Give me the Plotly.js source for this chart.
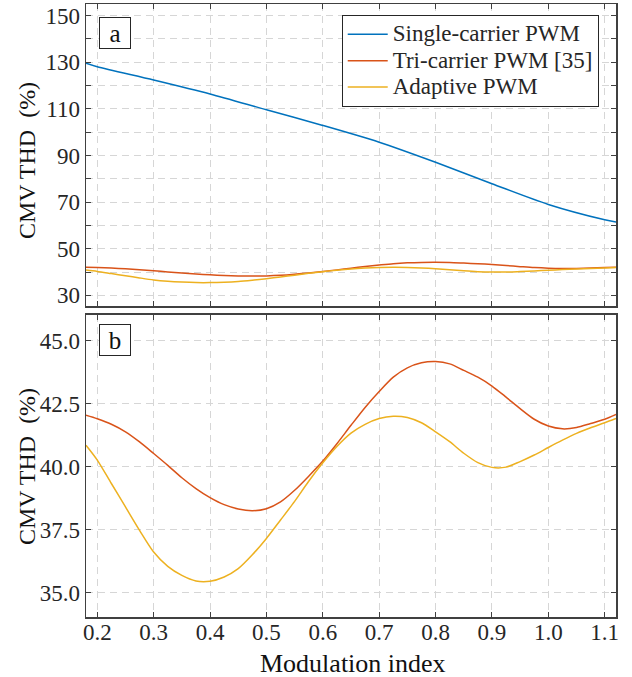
<!DOCTYPE html>
<html>
<head>
<meta charset="utf-8">
<script src="https://cdn.plot.ly/plotly-3.0.1.min.js"></script>
<style>html,body{margin:0;padding:0;background:#fff;}#chart{width:632px;height:677px;}</style>
</head>
<body>
<div id="chart"></div>
<script>
// Single-carrier PWM (top panel only)
const xSingle = [0.18, 0.2, 0.3, 0.4, 0.5, 0.6, 0.7, 0.8, 0.9, 1.0, 1.1, 1.12];
const ySingle = [129.6, 128.1, 122.4, 116.4, 109.6, 102.9, 95.7, 87.1, 77.9, 69.0, 62.4, 61.4];

// Modulation-index grid shared by Tri-carrier PWM [35] and Adaptive PWM
const xMod = [0.18, 0.2, 0.225, 0.25, 0.275, 0.3, 0.325, 0.35, 0.375, 0.4, 0.425, 0.45, 0.475, 0.5,
  0.525, 0.55, 0.575, 0.6, 0.625, 0.65, 0.675, 0.7, 0.725, 0.75, 0.775, 0.8, 0.825, 0.85, 0.875, 0.9,
  0.925, 0.95, 0.975, 1.0, 1.025, 1.05, 1.075, 1.1, 1.12];
const yTri = [42.04, 41.90, 41.68, 41.38, 40.98, 40.52, 40.05, 39.56, 39.13, 38.77, 38.49, 38.32, 38.25, 38.33,
  38.60, 39.06, 39.62, 40.22, 40.91, 41.64, 42.35, 42.98, 43.55, 43.92, 44.12, 44.17, 44.08, 43.82, 43.55, 43.20,
  42.76, 42.30, 41.88, 41.61, 41.50, 41.55, 41.71, 41.88, 42.07];
const yAdaptive = [40.85, 40.26, 39.33, 38.40, 37.47, 36.61, 36.04, 35.68, 35.46, 35.45, 35.62, 35.95, 36.50, 37.15,
  37.88, 38.62, 39.42, 40.15, 40.80, 41.33, 41.68, 41.91, 42.00, 41.95, 41.74, 41.38, 40.99, 40.53, 40.16, 39.97,
  39.98, 40.20, 40.46, 40.76, 41.05, 41.32, 41.54, 41.74, 41.91];

const seriesNames = ['Single-carrier PWM', 'Tri-carrier PWM [35]', 'Adaptive PWM'];
const seriesColors = ['#0072BD', '#D95319', '#EDB120'];

const xTicks = [0.2, 0.3, 0.4, 0.5, 0.6, 0.7, 0.8, 0.9, 1.0, 1.1];
const yTopTicks = [30, 40, 50, 60, 70, 80, 90, 100, 110, 120, 130, 140, 150];
const yTopTickText = ['30', '', '50', '', '70', '', '90', '', '110', '', '130', '', '150'];
const yBotTicks = [35, 37.5, 40, 42.5, 45];
const yBotTickText = ['35.0', '37.5', '40.0', '42.5', '45.0'];

const FONT = 'Liberation Serif';
const AX = '#404040';

function line(x, y, i, xa, ya, show) {
  return {x: x, y: y, type: 'scatter', mode: 'lines',
    name: '<span style="font-size:23px">' + seriesNames[i] + '</span>',
    line: {color: seriesColors[i], width: 1.5, shape: 'spline', smoothing: 0.8},
    xaxis: xa, yaxis: ya, showlegend: show};
}

const traces = [
  line(xSingle, ySingle, 0, 'x', 'y', true),
  line(xMod, yTri, 1, 'x', 'y', true),
  line(xMod, yAdaptive, 2, 'x', 'y', true),
  line(xMod, yTri, 1, 'x2', 'y2', false),
  line(xMod, yAdaptive, 2, 'x2', 'y2', false)
];

const common = {
  showline: true, linecolor: AX, linewidth: 1.5, mirror: 'ticks',
  ticks: 'inside', ticklen: 5, tickwidth: 1, tickcolor: AX,
  showgrid: true, gridcolor: '#d6d6d6', gridwidth: 1, griddash: '7px,5px',
  zeroline: false, tickfont: {family: FONT, size: 23, color: '#262626'}
};

const layout = {
  width: 632, height: 677,
  margin: {l: 86, r: 16, t: 4, b: 60},
  paper_bgcolor: '#fff', plot_bgcolor: '#fff',
  font: {family: FONT, color: '#262626'},
  xaxis: Object.assign({}, common, {range: [0.18, 1.12], tickvals: xTicks, showticklabels: false, anchor: 'y', domain: [0, 1]}),
  yaxis: Object.assign({}, common, {range: [25.4, 155], tickvals: yTopTicks, ticktext: yTopTickText, domain: [0.5073, 1], anchor: 'x'}),
  xaxis2: Object.assign({}, common, {range: [0.18, 1.12], tickvals: xTicks, tickformat: '.1f', anchor: 'y2', domain: [0, 1], ticklabelstandoff: -6}),
  yaxis2: Object.assign({}, common, {range: [34.03, 46.02], tickvals: yBotTicks, ticktext: yBotTickText, domain: [0, 0.4927], anchor: 'x2'}),
  legend: {x: 0.4825, y: 0.982, xanchor: 'left', yanchor: 'top', bgcolor: '#fff', bordercolor: '#262626', borderwidth: 1,
    font: {family: FONT, size: 18, color: '#262626'}, tracegroupgap: 0, itemwidth: 40},
  annotations: [
    {text: 'a', xref: 'paper', yref: 'paper', x: 0.0547, y: 0.9527, xanchor: 'center', yanchor: 'middle', showarrow: false,
      bordercolor: '#262626', borderwidth: 1, bgcolor: '#fff', width: 28, height: 28, font: {family: FONT, size: 25, color: '#111'}},
    {text: 'b', xref: 'paper', yref: 'paper', x: 0.0547, y: 0.4519, xanchor: 'center', yanchor: 'middle', showarrow: false,
      bordercolor: '#262626', borderwidth: 1, bgcolor: '#fff', width: 28, height: 28, font: {family: FONT, size: 25, color: '#111'}},
    {text: 'CMV THD  (%)', xref: 'paper', yref: 'paper', x: -0.1113, y: 0.7439, xanchor: 'center', yanchor: 'middle', textangle: -90, showarrow: false,
      font: {family: FONT, size: 24, color: '#111'}},
    {text: 'CMV THD  (%)', xref: 'paper', yref: 'paper', x: -0.1113, y: 0.2447, xanchor: 'center', yanchor: 'middle', textangle: -90, showarrow: false,
      font: {family: FONT, size: 24, color: '#111'}},
    {text: 'Modulation index', xref: 'paper', yref: 'paper', x: 0.503, y: -0.076, xanchor: 'center', yanchor: 'middle', showarrow: false,
      font: {family: FONT, size: 26, color: '#111'}}
  ]
};

Plotly.newPlot('chart', traces, layout, {displayModeBar: false, staticPlot: true});
</script>
</body>
</html>
